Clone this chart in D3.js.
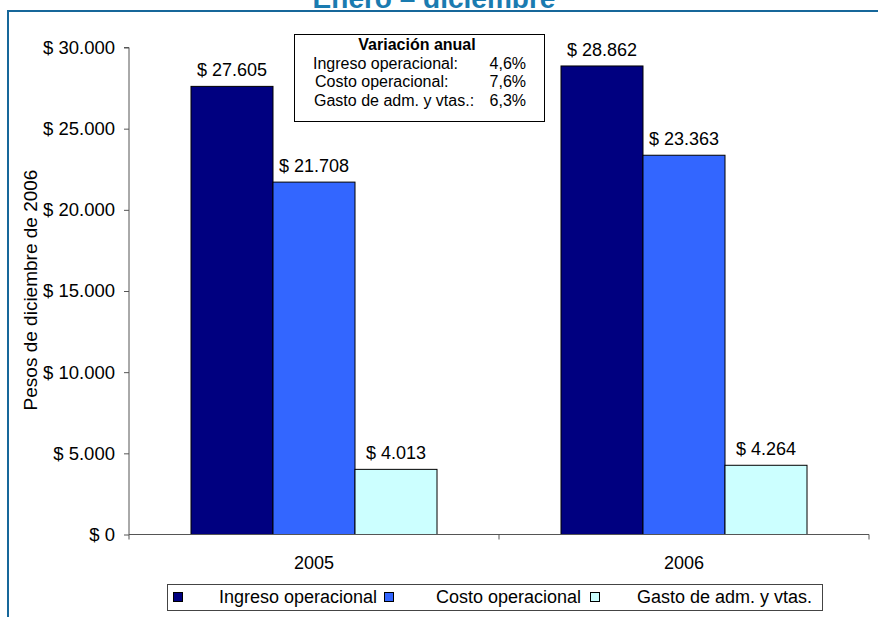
<!DOCTYPE html>
<html><head><meta charset="utf-8">
<script src="https://cdn.jsdelivr.net/npm/d3@7"></script>
<style>body{margin:0;background:#fff}svg{display:block;font-family:"Liberation Sans",Arial,sans-serif}</style>
</head><body><svg id="c" width="878" height="617"></svg>
<script>
const years = ["2005", "2006"];
const seriesNames = ["Ingreso operacional", "Costo operacional", "Gasto de adm. y vtas."];
const ingreso = [27605, 28862];
const costo = [21708, 23363];
const gasto = [4013, 4264];
const seriesColors = ["#000080", "#3366FF", "#CCFFFF"];
const yTicks = [0, 5000, 10000, 15000, 20000, 25000, 30000];
const variationRows = ["Ingreso operacional:", "Costo operacional:", "Gasto de adm. y vtas.:"];
const variationValues = ["4,6%", "7,6%", "6,3%"];

const seriesValues = [ingreso, costo, gasto];
const fmt = v => "$ " + d3.format(",")(v).replace(/,/g, ".");

const svg = d3.select("#c");
// frame
svg.append("line").attr("x1", 7).attr("x2", 878).attr("y1", 11).attr("y2", 11).attr("stroke", "#16679a").attr("stroke-width", 2);
svg.append("line").attr("x1", 8).attr("x2", 8).attr("y1", 10).attr("y2", 617).attr("stroke", "#16679a").attr("stroke-width", 2);
// title (cut off at top, as in the original)
svg.append("text").attr("x", 434).attr("y", 8).attr("text-anchor", "middle").attr("font-size", 28).attr("font-weight", "bold").attr("fill", "#1a7bb0").text("Enero – diciembre");

const pLeft = 129, pRight = 869, pBase = 534.5, pTop = 47.5;
const y = d3.scaleLinear().domain([0, 30000]).range([pBase, pTop]);
const x0 = d3.scaleBand().domain(years).range([pLeft, pRight]).padding(0);
const x1 = d3.scaleBand().domain(seriesNames).range([0, x0.bandwidth()]).paddingInner(0).paddingOuter(0.756);

// y axis
const yAxis = svg.append("g").attr("transform", `translate(${pLeft},0)`)
  .call(d3.axisLeft(y).tickValues(yTicks).tickSize(5).tickPadding(9).tickFormat(fmt));
yAxis.select(".domain").attr("stroke", "#555").attr("d", `M-5,${pTop}H0V${pBase}`);
yAxis.selectAll(".tick line").attr("stroke", "#555");
yAxis.selectAll("text").attr("font-size", 18.5).attr("fill", "#000").attr("font-family", "Liberation Sans, Arial, sans-serif");

svg.append("text").attr("transform", `translate(37,290) rotate(-90)`).attr("text-anchor", "middle")
  .attr("font-size", 19).text("Pesos de diciembre de 2006");

// bars
years.forEach((yr, i) => {
  const g = svg.append("g").attr("transform", `translate(${x0(yr)},0)`);
  seriesNames.forEach((s, j) => {
    const v = seriesValues[j][i];
    g.append("rect").attr("x", x1(s)).attr("y", y(v)).attr("width", x1.bandwidth()).attr("height", pBase - y(v))
      .attr("fill", seriesColors[j]).attr("stroke", "#000").attr("stroke-width", 1);
    g.append("text").attr("x", x1(s) + x1.bandwidth() / 2).attr("y", y(v) - 10).attr("text-anchor", "middle")
      .attr("font-size", 18).text(fmt(v));
  });
});

// x axis
const xAxisG = svg.append("g");
xAxisG.append("line").attr("x1", pLeft).attr("x2", pRight).attr("y1", pBase).attr("y2", pBase).attr("stroke", "#555");
const bounds = [pLeft].concat(years.map(yr => x0(yr) + x0.bandwidth()));
bounds.forEach(b => xAxisG.append("line").attr("x1", b).attr("x2", b).attr("y1", pBase).attr("y2", pBase + 5).attr("stroke", "#555"));
years.forEach(yr => xAxisG.append("text").attr("x", x0(yr) + x0.bandwidth() / 2).attr("y", 569).attr("text-anchor", "middle").attr("font-size", 18).text(yr));

// variation box
const vb = svg.append("g");
vb.append("rect").attr("x", 294.5).attr("y", 34.5).attr("width", 250).attr("height", 87).attr("fill", "#fff").attr("stroke", "#000");
vb.append("text").attr("x", 417).attr("y", 50).attr("text-anchor", "middle").attr("font-size", 16).attr("font-weight", "bold").text("Variación anual");
const rowX = [313, 315, 314];
variationRows.forEach((r, i) => {
  vb.append("text").attr("x", rowX[i]).attr("y", 68.5 + i * 18.5).attr("font-size", 16).text(r);
  vb.append("text").attr("x", 526).attr("y", 68.5 + i * 18.5).attr("text-anchor", "end").attr("font-size", 16).text(variationValues[i]);
});

// legend
const lg = svg.append("g");
lg.append("rect").attr("x", 167.5).attr("y", 584.5).attr("width", 655).attr("height", 26).attr("fill", "#fff").attr("stroke", "#444");
const swX = [173, 384, 590];
const txX = [219, 436, 637];
seriesNames.forEach((s, j) => {
  lg.append("rect").attr("x", swX[j] + 0.5).attr("y", 592.5).attr("width", 9).attr("height", 9).attr("fill", seriesColors[j]).attr("stroke", "#000");
  lg.append("text").attr("x", txX[j]).attr("y", 603).attr("font-size", 18).text(s);
});
</script></body></html>
